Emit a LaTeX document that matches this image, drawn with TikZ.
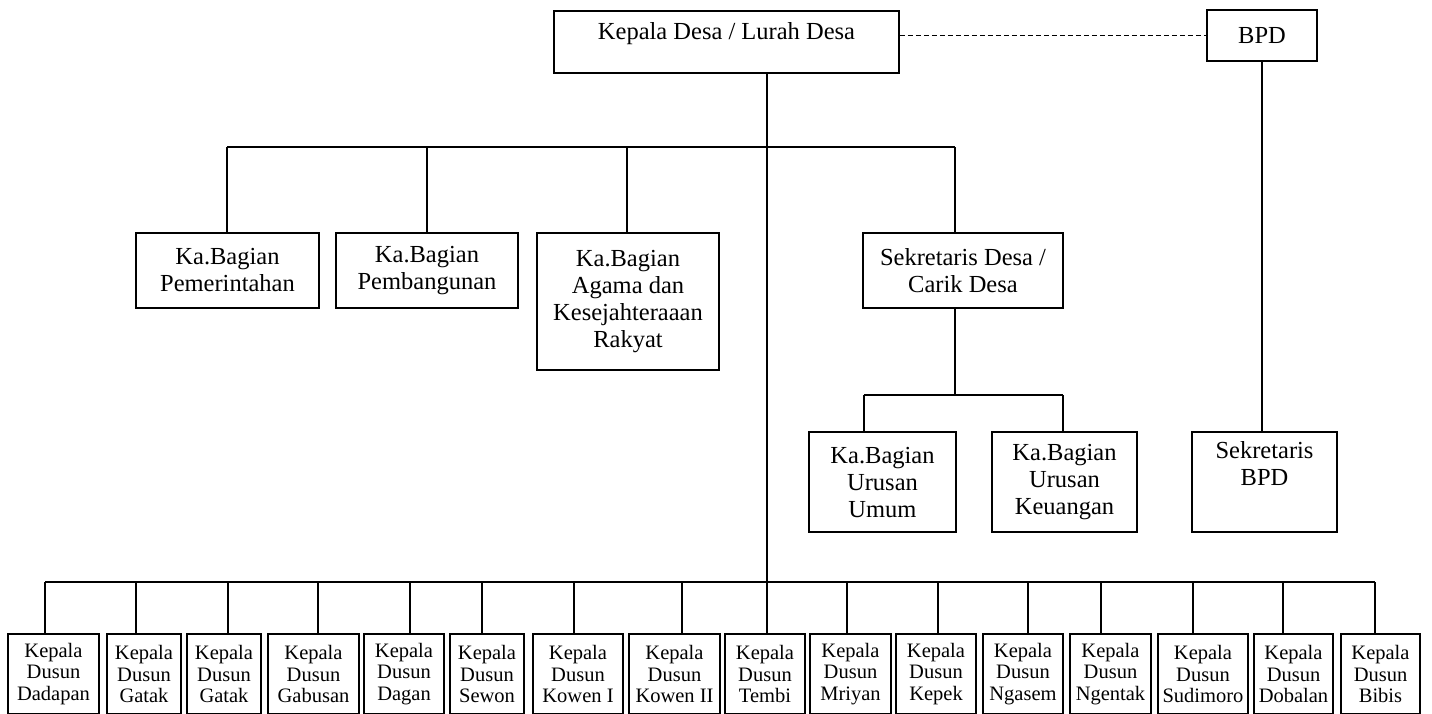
\documentclass[tikz,border=0pt]{standalone}
\usepackage{fontspec}
\setmainfont{Liberation Serif}
\begin{document}
\begin{tikzpicture}[x=1pt,y=-1pt,
  bx/.style={draw, line width=1.8pt, inner sep=0pt, align=center},
  mid/.style={bx, font=\fontsize{24.5}{27}\selectfont},
  txt/.style={inner sep=0pt, align=center, font=\fontsize{24.5}{27}\selectfont},
  dus/.style={bx, font=\fontsize{20.5}{21.5}\selectfont, minimum height=80pt},
  ln/.style={line width=1.8pt},
  dsh/.style={line width=1.8pt, dash pattern=on 5pt off 3pt}]
\useasboundingbox (0,0) rectangle (1432,713);

% top level
\node[bx, minimum width=345pt, minimum height=62pt] (kd) at (726.5,42) {};
\node[txt, anchor=base] (kdt) at ([yshift=-29pt]kd.north) {Kepala Desa / Lurah Desa};
\node[mid, minimum width=110pt, minimum height=51pt] (bpd) at (1262,35.5) {BPD};
\draw[dsh] (kd.east |- bpd.west) -- (bpd.west);

% second level
\node[mid, minimum width=183pt, minimum height=75pt] (m1) at (227.5,270.5) {Ka.Bagian\\Pemerintahan};
\node[mid, minimum width=182pt, minimum height=75pt] (m2) at (427,270.5) {Ka.Bagian\\Pembangunan};
\node[mid, minimum width=182pt, minimum height=137pt] (m3) at (628,301.5) {Ka.Bagian\\Agama dan\\Kesejahteraaan\\Rakyat};
\node[mid, minimum width=200pt, minimum height=75pt] (sk) at (963,270.5) {Sekretaris Desa /\\Carik Desa};

\coordinate (b1) at (227,147);
\coordinate (b2) at (427,147);
\coordinate (b3) at (627,147);
\coordinate (b4) at (955,147);
\draw[ln] (b1) -- (b4);
\draw[ln] (b1) -- (b1 |- m1.north);
\draw[ln] (b2) -- (b2 |- m2.north);
\draw[ln] (b3) -- (b3 |- m3.north);
\draw[ln] (b4) -- (b4 |- sk.north);

% third level
\node[mid, minimum width=147pt, minimum height=100pt] (u1) at (882.5,482) {Ka.Bagian\\Urusan\\Umum};
\node[mid, minimum width=145pt, minimum height=100pt] (u2) at (1064.5,482) {Ka.Bagian\\Urusan\\Keuangan};
\node[bx, minimum width=145pt, minimum height=100pt] (sb) at (1264.5,482) {};
\node[txt, anchor=north] (sbt) at ([yshift=-10.5pt]sb.north) {Sekretaris\\BPD};

\coordinate (s1) at (864,395);
\coordinate (s2) at (1063,395);
\draw[ln] (b4 |- sk.south) -- (b4 |- s1);
\draw[ln] (s1) -- (s2);
\draw[ln] (s1) -- (s1 |- u1.north);
\draw[ln] (s2) -- (s2 |- u2.north);
\draw[ln] (bpd.south) -- (bpd.south |- sb.north);

% dusun row
\foreach \i/\l/\r/\c/\t in {1/8/99/45/Dadapan, 2/107/181/136/Gatak, 3/187/261/228/Gatak,
  4/268/359/318/Gabusan, 5/364/444/410/Dagan, 6/450/524/482/Sewon, 7/533/623/574/Kowen I,
  8/629/720/682/Kowen II, 9/725/805/767/Tembi, 10/810/891/847/Mriyan, 11/896/976/938/Kepek,
  12/983/1063/1028/Ngasem, 13/1070/1151/1101/Ngentak, 14/1158/1248/1193/Sudimoro,
  15/1254/1333/1283/Dobalan, 16/1341/1420/1375/Bibis}{
  \node[dus, minimum width={\r-\l}] (d\i) at ({(\l+\r)/2},674) {Kepala\\Dusun\\\t};
  \coordinate (c\i) at (\c,582);
  \draw[ln] (c\i) -- (c\i |- d\i.north);
}
\draw[ln] (c1) -- (c16);
\draw[ln] (c9 |- kd.south) -- (c9);
\end{tikzpicture}
\end{document}
